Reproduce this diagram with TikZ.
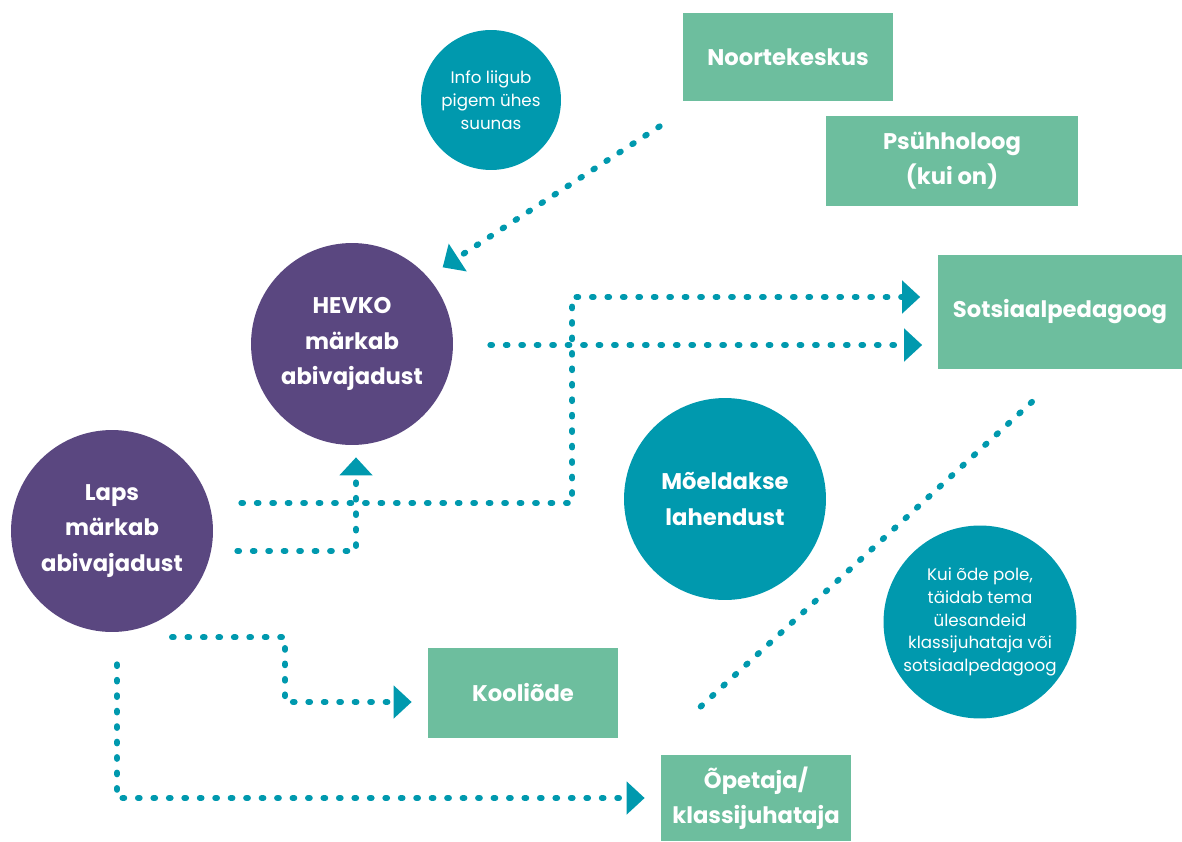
\documentclass[tikz,border=0pt]{standalone}
\usepackage{fontspec}
\setmainfont{Poppins}
\usetikzlibrary{arrows.meta,calc}
\definecolor{dotteal}{HTML}{0099AE}
\definecolor{boxgreen}{HTML}{6DBE9E}
\definecolor{hevkopurple}{HTML}{5A4780}
\begin{document}
\begin{tikzpicture}[x=0.02cm, y=-0.02cm,
    box/.style={fill=boxgreen, text=white, align=center, inner sep=0pt,
      font=\bfseries\fontsize{12.9}{20}\selectfont},
    bigdot/.style={circle, minimum size=4.04cm, inner sep=0pt, text=white,
      align=center, font=\bfseries\fontsize{12.9}{20}\selectfont},
    smalldot/.style={circle, fill=dotteal, inner sep=0pt, text=white,
      align=center, font=\fontsize{9.5}{13}\selectfont},
    dotline/.style={draw=dotteal, line width=3.4pt, line cap=round,
      dash pattern=on 1pt off 7.8pt},
    flow/.style={dotline, -{Triangle[length=0.36cm,width=0.64cm]}},
  ]
  \useasboundingbox (0,0) rectangle (1182,841);

  % boxes
  \node[box, minimum width=4.2cm, minimum height=1.76cm] (noorte) at (788,57) {Noortekeskus};
  \node[box, minimum width=5.06cm, minimum height=1.8cm] (psyh) at (952,161) {Psühholoog\\(kui on)};
  \node[box, minimum width=4.9cm, minimum height=2.3cm] (sots) at (1060,312) {Sotsiaalpedagoog};
  \node[box, minimum width=3.8cm, minimum height=1.8cm] (kool) at (523,693) {Kooliõde};
  \node[box, minimum width=3.8cm, minimum height=1.72cm] (opet) at (756,798) {Õpetaja/\\klassijuhataja};

  % circles
  \node[smalldot, minimum size=2.8cm] (info) at (491,100) {Info liigub\\pigem ühes\\suunas};
  \node[bigdot, fill=hevkopurple] (hevko) at (352,344) {HEVKO\\märkab\\abivajadust};
  \node[bigdot, fill=hevkopurple] (laps) at (112,531) {Laps\\märkab\\abivajadust};
  \node[bigdot, fill=dotteal] (moeld) at (725,499) {Mõeldakse\\lahendust};
  \node[smalldot, minimum size=3.86cm] (kui) at (980,622) {Kui õde pole,\\täidab tema\\ülesandeid\\klassijuhataja või\\sotsiaalpedagoog};

  % flows
  \draw[flow] ($(noorte.south west)+(-23,25)$) -- ($(hevko.north east)+(19,-5)$);
  \draw[flow] ($(laps.east)+(28,-28)$) -- ++(331,0) |- ($(sots.west)+(-17,-15)$);
  \draw[flow] ($(hevko.east)+(37,1)$) -- ($(sots.west)+(-15,33)$);
  \draw[flow] ($(laps.east)+(24,20)$) -| ($(hevko.south)+(4,12)$);
  \draw[flow] ($(laps.south)+(60,5)$) -- ++(113,0) |- ($(kool.west)+(-16,9)$);
  \draw[flow] ($(laps.south)+(5,32)$) |- ($(opet.west)+(-16,0)$);

  % divider
  \draw[dotline] ($(sots.south)+(-28,32)$) -- ($(kool.north east)+(79,62)$);
\end{tikzpicture}
\end{document}
